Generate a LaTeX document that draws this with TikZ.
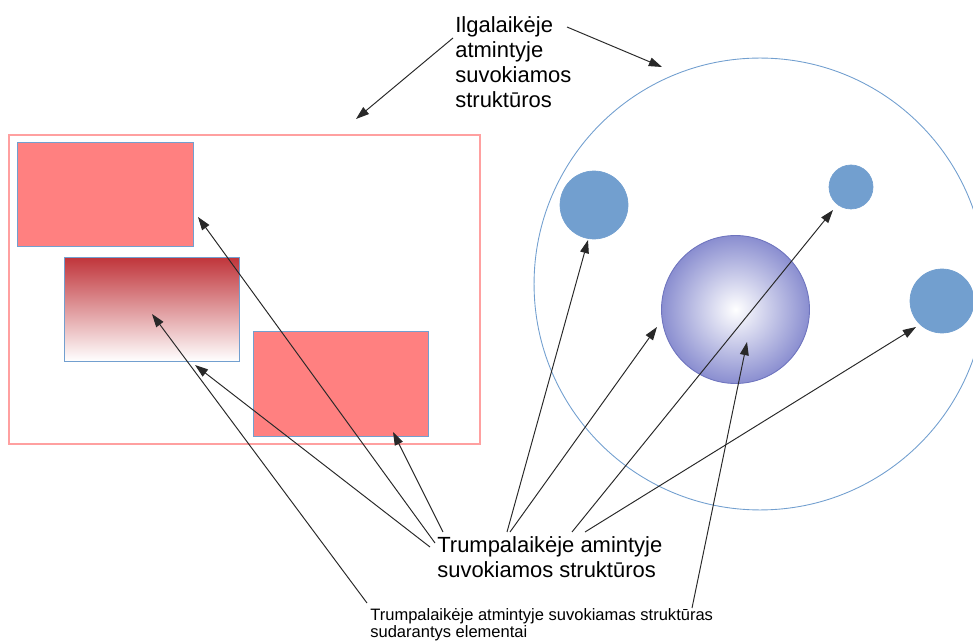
\documentclass[tikz,border=0pt]{standalone}
\usepackage{fontspec}
\setmainfont{Liberation Sans}
\usetikzlibrary{arrows.meta}

\definecolor{framered}{RGB}{255,160,160}
\definecolor{boxred}{RGB}{255,128,128}
\definecolor{gradred}{RGB}{192,52,58}
\definecolor{edgeblue}{RGB}{114,159,207}
\definecolor{ballblue}{RGB}{138,142,208}
\definecolor{balledge}{RGB}{110,116,190}
\definecolor{arrowgray}{RGB}{40,40,40}

\begin{document}
\begin{tikzpicture}[x=0.02cm,y=-0.02cm,
    box/.style={draw=edgeblue,line width=0.5pt,inner sep=0pt},
    dot/.style={circle,draw=edgeblue,fill=edgeblue,inner sep=0pt},
    caption/.style={inner sep=0pt,anchor=north west,align=left},
    pointer/.style={draw=arrowgray,line width=0.55pt,-{Triangle[length=7.5pt,width=5pt]}}]

  \useasboundingbox (0,0) rectangle (973,641);

  % long-term memory: rectangles on the left
  \node[draw=framered,line width=0.7pt,inner sep=0pt,minimum width=9.42cm,minimum height=6.18cm] (frame) at (244.5,289.5) {};
  \node[box,fill=boxred,minimum width=3.52cm,minimum height=2.08cm] (boxa) at (105,194) {};
  \node[box,top color=gradred,bottom color=white,minimum width=3.5cm,minimum height=2.08cm] (boxb) at (151.5,309) {};
  \node[box,fill=boxred,minimum width=3.5cm,minimum height=2.1cm] (boxc) at (340.5,383.5) {};

  % long-term memory: circles on the right
  \node[circle,draw=edgeblue,line width=0.5pt,inner sep=0pt,minimum size=9.04cm] (orbit) at (760,284) {};
  \node[dot,minimum size=1.36cm] (dota) at (594,205) {};
  \node[dot,minimum size=0.88cm] (dotb) at (851,187) {};
  \node[dot,minimum size=1.28cm] (dotc) at (942,301) {};
  \node[circle,draw=balledge,line width=0.5pt,inner color=white,outer color=ballblue,inner sep=0pt,minimum size=2.96cm] (ball) at (735.5,309.5) {};

  % texts
  \node[caption,font=\fontsize{12.5}{14.2}\selectfont] (ltm) at (455,16)
    {Ilgalaikėje\\atmintyje\\suvokiamos\\struktūros};
  \node[caption,font=\fontsize{12.5}{14.2}\selectfont] (stm) at (437,536)
    {Trumpalaikėje amintyje\\suvokiamos struktūros};
  \node[caption,font=\fontsize{9.4}{9.6}\selectfont] (elem) at (370,608)
    {Trumpalaikėje atmintyje suvokiamas struktūras\\sudarantys elementai};

  % arrow ends
  \coordinate (ltmL) at (453,38);
  \coordinate (ltmR) at (567,27);
  \coordinate (frameT) at (356,119);
  \coordinate (orbitT) at (662,67);

  \coordinate (stmA) at (435,543);
  \coordinate (stmB) at (430,547);
  \coordinate (stmC) at (443,532);
  \coordinate (stmD) at (507,532);
  \coordinate (stmE) at (510,532);
  \coordinate (stmF) at (572,532);
  \coordinate (stmG) at (585,532);
  \coordinate (boxaT) at (198,217);
  \coordinate (boxbT) at (195,365);
  \coordinate (boxcT) at (393,432);
  \coordinate (dotaT) at (588,240);
  \coordinate (ballT) at (657,327);
  \coordinate (dotbT) at (833,210);
  \coordinate (dotcT) at (916,327);

  \coordinate (elemL) at (367,603);
  \coordinate (elemR) at (692,608);
  \coordinate (boxbC) at (152,314);
  \coordinate (ballC) at (747,342);

  % arrows
  \draw[pointer] (ltmL) -- (frameT);
  \draw[pointer] (ltmR) -- (orbitT);

  \draw[pointer] (stmA) -- (boxaT);
  \draw[pointer] (stmB) -- (boxbT);
  \draw[pointer] (stmC) -- (boxcT);
  \draw[pointer] (stmD) -- (dotaT);
  \draw[pointer] (stmE) -- (ballT);
  \draw[pointer] (stmF) -- (dotbT);
  \draw[pointer] (stmG) -- (dotcT);

  \draw[pointer] (elemL) -- (boxbC);
  \draw[pointer] (elemR) -- (ballC);
\end{tikzpicture}
\end{document}
